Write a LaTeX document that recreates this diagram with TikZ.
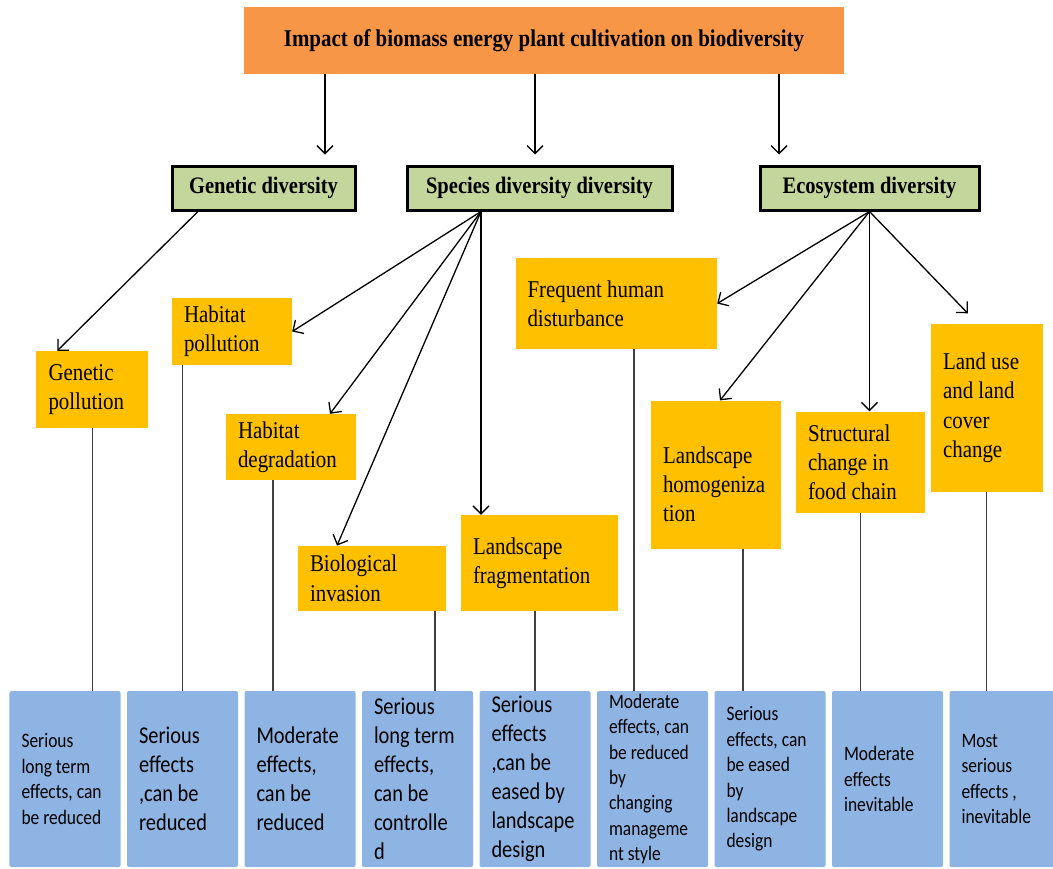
\documentclass[tikz,border=0pt]{standalone}
\usepackage{graphicx}
\usepackage{fontspec}
\setmainfont{Liberation Serif}
\newfontfamily\calib{Carlito}
\usetikzlibrary{arrows.meta,calc}
\definecolor{topor}{HTML}{F79646}
\definecolor{grn}{HTML}{C3D69B}
\definecolor{yel}{HTML}{FFC000}
\definecolor{blu}{HTML}{8EB4E3}
\definecolor{cgray}{HTML}{404040}
\newcommand{\ytx}[2]{\scalebox{1}[1.15]{\parbox{#1}{\raggedright #2}}}
\newcommand{\btx}[1]{\scalebox{1}[1.18]{\parbox{87bp}{\raggedright #1}}}
\newcommand{\stx}[1]{\scalebox{1}[1.15]{#1}}
\begin{document}
\begin{tikzpicture}[x=1bp,y=-1bp,
 topbox/.style={fill=topor, minimum width=600bp, minimum height=66bp, inner sep=0pt, font=\fontsize{21}{25}\selectfont\bfseries},
 grnbox/.style={fill=grn, draw=black, line width=3bp, inner sep=0pt, minimum height=44bp, font=\fontsize{20.6}{25}\selectfont\bfseries},
 ybox/.style={fill=yel, inner xsep=12bp, inner ysep=0pt, font=\fontsize{21}{25.6}\selectfont},
 bbox/.style={fill=blu, rounded corners=2bp, inner xsep=12bp, inner ysep=0pt, minimum width=111bp, minimum height=176bp},
 bigt/.style={font=\calib\fontsize{20.5}{24.6}\selectfont},
 smallt/.style={font=\calib\fontsize{17.5}{21.6}\selectfont},
 arr/.style={draw=black, line width=1.3bp, -{Straight Barb[length=8bp,width=16bp]}},
 conn/.style={draw=cgray, line width=1.3bp}]
\useasboundingbox (0,0) rectangle (1053,869);
\clip (0,0) rectangle (1053,869);

% top
\node[topbox] (top) at (544,40.5) {\stx{Impact of biomass energy plant cultivation on biodiversity}};

% level 2
\node[grnbox, minimum width=183bp] (gd) at (263.5,188) {\stx{Genetic diversity}};
\node[grnbox, minimum width=265bp] (sp) at (539.5,188) {\stx{Species diversity diversity}};
\node[grnbox, minimum width=219bp] (eco) at (869.5,188) {\stx{Ecosystem diversity}};

% yellow boxes
\node[ybox, minimum width=111.5bp, minimum height=77bp] (gp) at (92.25,389.5) {\ytx{87.5bp}{Genetic\\pollution}};
\node[ybox, minimum width=120bp, minimum height=67bp] (hp) at (232,331.5) {\ytx{96bp}{Habitat\\pollution}};
\node[ybox, minimum width=130bp, minimum height=66bp] (hd) at (291,447) {\ytx{106bp}{Habitat\\degradation}};
\node[ybox, minimum width=148bp, minimum height=65bp] (bi) at (372,578.3) {\ytx{124bp}{Biological\\invasion}};
\node[ybox, minimum width=157bp, minimum height=96bp] (lf) at (539.5,563) {\ytx{133bp}{Landscape\\fragmentation}};
\node[ybox, minimum width=201.5bp, minimum height=91bp] (fh) at (616.25,303.5) {\ytx{177.5bp}{Frequent human\\disturbance}};
\node[ybox, minimum width=130bp, minimum height=148bp] (ho) at (716,474.6) {\ytx{106bp}{\rule{0pt}{31.5bp}Landscape\\homogeniza\\tion}};
\node[ybox, minimum width=129bp, minimum height=101.5bp] (sc) at (860.5,462.25) {\ytx{105bp}{Structural\\change in\\food chain}};
\node[ybox, minimum width=111.5bp, minimum height=167.6bp] (lu) at (986.75,407.8) {\ytx{87.5bp}{Land use\\and land\\cover\\change}};

% blue boxes
\node[bbox, smallt] (b1) at (65,779) {\btx{Serious\\long term\\effects, can\\be reduced}};
\node[bbox, bigt] (b2) at (182.5,779) {\btx{Serious\\effects\\,can be\\reduced}};
\node[bbox, bigt] (b3) at (300,779) {\btx{Moderate\\effects,\\can be\\reduced}};
\node[bbox, bigt] (b4) at (417.5,779) {\btx{Serious\\long term\\effects,\\can be\\controlle\\d}};
\node[bbox, bigt] (b5) at (535,779) {\btx{Serious\\effects\\,can be\\eased by\\landscape\\design}};
\node[bbox, smallt] (b6) at (652.5,779) {\btx{Moderate\\effects, can\\be reduced\\by\\changing\\manageme\\nt style}};
\node[bbox, smallt] (b7) at (770,779) {\btx{Serious\\effects, can\\be eased\\by\\landscape\\design}};
\node[bbox, smallt] (b8) at (887.5,779) {\btx{Moderate\\effects\\inevitable}};
\node[bbox, smallt] (b9) at (1005,779) {\btx{Most\\serious\\effects ,\\inevitable}};

% arrows from top
\draw[arr, shorten >=10bp] ([xshift=-219bp]top.south) -- ([xshift=-219bp]top.south |- gd.north);
\draw[arr, shorten >=10bp] ([xshift=-9bp]top.south) -- ([xshift=-9bp]top.south |- sp.north);
\draw[arr, shorten >=10bp] ([xshift=235bp]top.south) -- ([xshift=235bp]top.south |- eco.north);

% genetic
\draw[arr] ([xshift=-65.5bp]gd.south) -- ([xshift=-35bp]gp.north);

% species
\coordinate (spS) at ([xshift=-58.5bp]sp.south);
\draw[arr] (spS) -- (hp.east);
\draw[arr] (spS) -- ([xshift=39bp]hd.north);
\draw[arr] (spS) -- ([xshift=-35bp]bi.north);
\draw[arr] (spS) -- (spS |- lf.north);

% ecosystem
\draw[arr] (eco.south) -- (fh.east);
\draw[arr] (eco.south) -- ([xshift=4bp]ho.north);
\draw[arr] (eco.south) -- (eco.south |- sc.north);
\draw[arr] (eco.south) -- ([xshift=-19bp,yshift=10.5bp]lu.north);

% connectors to effects
\draw[conn] (gp.south) -- (gp.south |- b1.north);
\draw[conn] (hp.south -| b2.north) -- (b2.north);
\draw[conn] ([xshift=-18bp]hd.south) -- ([xshift=-18bp]hd.south |- b3.north);
\draw[conn] ([xshift=63bp]bi.south) -- ([xshift=63bp]bi.south |- b4.north);
\draw[conn] (lf.south -| b5.north) -- (b5.north);
\draw[conn] ([xshift=17.75bp]fh.south) -- ([xshift=17.75bp]fh.south |- b6.north);
\draw[conn] ([xshift=27bp]ho.south) -- ([xshift=27bp]ho.south |- b7.north);
\draw[conn] (sc.south) -- (sc.south |- b8.north);
\draw[conn] (lu.south) -- (lu.south |- b9.north);
\end{tikzpicture}
\end{document}
